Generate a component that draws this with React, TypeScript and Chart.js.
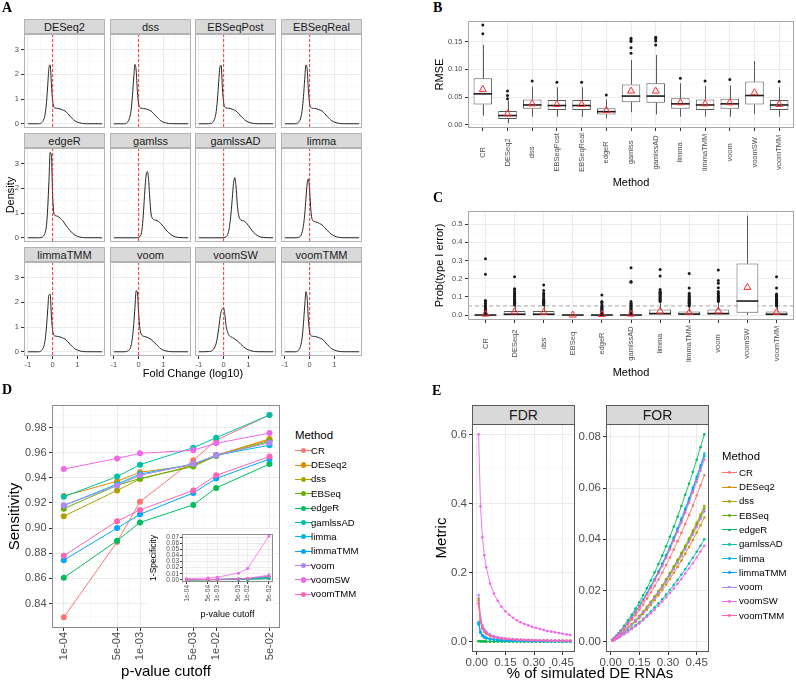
import React, { useEffect, useRef } from "react";
import { Chart, registerables } from "chart.js";
Chart.register(...registerables);

// ---------------- DATA ----------------
const METHODS = ["CR", "DESeq2", "dss", "EBSeq", "edgeR", "gamlssAD", "limma", "limmaTMM", "voom", "voomSW", "voomTMM"];
const COLORS = ["#F8766D", "#DB8E00", "#AEA200", "#64B200", "#00BD5C", "#00C1A7", "#00BADE", "#00A6FF", "#B385FF", "#EF67EB", "#FF63B6"];

// Panel A: density of fold change (log10)
const A_PANELS = ["DESeq2", "dss", "EBSeqPost", "EBSeqReal", "edgeR", "gamlss", "gamlssAD", "limma", "limmaTMM", "voom", "voomSW", "voomTMM"];
const X_A = [-1.0, -0.6, -0.45, -0.35, -0.3, -0.25, -0.2, -0.15, -0.1, -0.05, 0, 0.05, 0.1, 0.2, 0.3, 0.4, 0.5, 0.6, 0.7, 0.8, 0.9, 1.0, 1.2, 1.4, 2.0];
const X_A_SHIFT = [-1.0, -0.4, -0.1, 0, 0.1, 0.15, 0.2, 0.25, 0.3, 0.35, 0.4, 0.45, 0.5, 0.55, 0.6, 0.7, 0.8, 0.9, 1.0, 1.1, 1.2, 1.4, 1.6, 2.0];
const DENS_DESEQ2 = [0, 0, 0.04, 0.2, 0.42, 0.85, 1.55, 2.25, 2.38, 1.6, 0.92, 0.68, 0.64, 0.62, 0.6, 0.56, 0.52, 0.42, 0.31, 0.21, 0.12, 0.07, 0.015, 0.003, 0];
const DENS_DSS = [0, 0, 0.06, 0.3, 0.6, 1.15, 1.85, 2.4, 2.15, 1.3, 0.8, 0.66, 0.63, 0.62, 0.6, 0.56, 0.52, 0.42, 0.31, 0.21, 0.12, 0.07, 0.015, 0.003, 0];
const DENS_EBSEQPOST = [0, 0, 0.05, 0.25, 0.5, 1.0, 1.7, 2.3, 2.36, 1.45, 0.85, 0.67, 0.64, 0.63, 0.61, 0.57, 0.52, 0.42, 0.31, 0.21, 0.12, 0.07, 0.015, 0.003, 0];
const DENS_EBSEQREAL = [0, 0, 0.06, 0.28, 0.58, 1.1, 1.8, 2.38, 2.2, 1.35, 0.82, 0.66, 0.63, 0.62, 0.6, 0.56, 0.52, 0.42, 0.31, 0.21, 0.12, 0.07, 0.015, 0.003, 0];
const DENS_EDGER = [0, 0, 0.02, 0.1, 0.22, 0.5, 1.2, 2.3, 3.45, 3.3, 1.7, 1.0, 0.9, 0.87, 0.8, 0.7, 0.56, 0.42, 0.3, 0.19, 0.11, 0.06, 0.012, 0.002, 0];
const DENS_GAMLSS = [0, 0, 0, 0.02, 0.15, 0.45, 1.1, 1.9, 2.5, 2.68, 2.4, 1.6, 1.0, 0.8, 0.74, 0.71, 0.66, 0.57, 0.46, 0.33, 0.22, 0.07, 0.015, 0];
const DENS_GAMLSSAD = [0, 0, 0, 0.01, 0.04, 0.1, 0.25, 0.55, 1.0, 1.6, 2.2, 2.43, 2.1, 1.4, 0.95, 0.72, 0.69, 0.62, 0.5, 0.36, 0.23, 0.07, 0.015, 0];
const DENS_LIMMA = [0, 0, 0.02, 0.1, 0.25, 0.5, 0.95, 1.6, 2.2, 2.38, 1.9, 1.1, 0.75, 0.65, 0.63, 0.58, 0.52, 0.42, 0.31, 0.21, 0.13, 0.07, 0.015, 0.003, 0];
const DENS_LIMMATMM = [0, 0, 0.05, 0.25, 0.5, 1.0, 1.7, 2.3, 2.32, 1.45, 0.85, 0.67, 0.64, 0.62, 0.6, 0.56, 0.52, 0.42, 0.31, 0.21, 0.12, 0.07, 0.015, 0.003, 0];
const DENS_VOOM = [0, 0, 0.03, 0.12, 0.28, 0.58, 1.1, 1.8, 2.47, 2.38, 1.55, 0.95, 0.72, 0.63, 0.6, 0.56, 0.5, 0.41, 0.31, 0.21, 0.12, 0.07, 0.015, 0.003, 0];
const DENS_VOOMSW = [0, 0.01, 0.06, 0.2, 0.35, 0.6, 0.95, 1.35, 1.62, 1.74, 1.76, 1.5, 1.05, 0.7, 0.6, 0.55, 0.48, 0.4, 0.3, 0.21, 0.13, 0.08, 0.02, 0.004, 0];
const DENS_VOOMTMM = [0, 0, 0.06, 0.3, 0.6, 1.15, 1.85, 2.43, 2.15, 1.3, 0.8, 0.66, 0.63, 0.62, 0.6, 0.56, 0.52, 0.42, 0.31, 0.21, 0.12, 0.07, 0.015, 0.003, 0];
const A_CURVES: [number[], number[]][] = [
  [X_A, DENS_DESEQ2], [X_A, DENS_DSS], [X_A, DENS_EBSEQPOST], [X_A, DENS_EBSEQREAL],
  [X_A, DENS_EDGER], [X_A_SHIFT, DENS_GAMLSS], [X_A_SHIFT, DENS_GAMLSSAD], [X_A, DENS_LIMMA],
  [X_A, DENS_LIMMATMM], [X_A, DENS_VOOM], [X_A, DENS_VOOMSW], [X_A, DENS_VOOMTMM],
];

// Panel B: RMSE boxplots
const B_METHODS = ["CR", "DESeq2", "dss", "EBSeqPost", "EBSeqReal", "edgeR", "gamlss", "gamlssAD", "limma", "limmaTMM", "voom", "voomSW", "voomTMM"];
const B_LOW = [0.017, 0.003, 0.015, 0.015, 0.015, 0.012, 0.023, 0.019, 0.015, 0.015, 0.015, 0.020, 0.015];
const B_Q1 = [0.037, 0.011, 0.029, 0.027, 0.027, 0.019, 0.041, 0.040, 0.029, 0.027, 0.029, 0.037, 0.027];
const B_MED = [0.056, 0.017, 0.036, 0.035, 0.035, 0.024, 0.052, 0.052, 0.038, 0.036, 0.038, 0.053, 0.036];
const B_Q3 = [0.084, 0.025, 0.046, 0.045, 0.045, 0.030, 0.073, 0.075, 0.048, 0.046, 0.047, 0.078, 0.045];
const B_HIGH = [0.144, 0.044, 0.069, 0.068, 0.068, 0.046, 0.117, 0.126, 0.075, 0.070, 0.071, 0.115, 0.068];
const B_MEAN = [0.064, 0.020, 0.038, 0.037, 0.037, 0.026, 0.061, 0.061, 0.040, 0.038, 0.040, 0.058, 0.037];
const B_OUT = [[0.164, 0.180], [0.047, 0.053, 0.061], [0.079], [0.077], [0.077], [0.054], [0.129, 0.139, 0.150, 0.153, 0.156], [0.144, 0.151, 0.155, 0.158], [0.084], [0.079], [0.082], [], [0.078]];

// Panel C: Prob(type I error) boxplots
const C_METHODS = METHODS;
const C_LOW = [0, 0, 0, 0, 0, 0, 0, 0, 0, 0, 0];
const C_Q1 = [0, 0, 0, 0, 0, 0, 0, 0, 0, 0.012, 0];
const C_MED = [0, 0.004, 0.004, 0, 0, 0, 0.008, 0.005, 0.008, 0.077, 0.004];
const C_Q3 = [0.001, 0.022, 0.022, 0, 0.001, 0.002, 0.030, 0.020, 0.030, 0.283, 0.020];
const C_HIGH = [0.002, 0.050, 0.050, 0, 0.002, 0.004, 0.070, 0.045, 0.070, 0.547, 0.045];
const C_MEAN = [0.005, 0.018, 0.015, 0.0, 0.003, 0.005, 0.021, 0.013, 0.022, 0.152, 0.015];
const C_OUT = [
  [0.008, 0.012, 0.016, 0.02, 0.025, 0.03, 0.035, 0.04, 0.047, 0.055, 0.065, 0.075, 0.08, 0.224, 0.31],
  [0.055, 0.06, 0.065, 0.07, 0.075, 0.08, 0.085, 0.09, 0.095, 0.1, 0.105, 0.11, 0.115, 0.12, 0.13, 0.14, 0.145, 0.21],
  [0.055, 0.06, 0.065, 0.07, 0.075, 0.08, 0.085, 0.09, 0.1, 0.11, 0.12, 0.135, 0.165],
  [],
  [0.005, 0.01, 0.015, 0.02, 0.025, 0.03, 0.035, 0.04, 0.045, 0.05, 0.06, 0.07, 0.075, 0.11],
  [0.008, 0.012, 0.016, 0.02, 0.025, 0.03, 0.035, 0.04, 0.045, 0.05, 0.055, 0.06, 0.065, 0.075, 0.18, 0.185, 0.26],
  [0.075, 0.08, 0.085, 0.09, 0.095, 0.1, 0.105, 0.11, 0.115, 0.12, 0.125, 0.13, 0.14, 0.215, 0.25],
  [0.05, 0.055, 0.06, 0.065, 0.07, 0.075, 0.08, 0.085, 0.09, 0.095, 0.1, 0.105, 0.11, 0.12, 0.148, 0.228],
  [0.075, 0.08, 0.085, 0.09, 0.095, 0.1, 0.105, 0.11, 0.12, 0.13, 0.15, 0.175, 0.19, 0.248],
  [],
  [0.05, 0.055, 0.06, 0.065, 0.07, 0.075, 0.08, 0.085, 0.09, 0.095, 0.1, 0.105, 0.11, 0.115, 0.148, 0.21],
];

// Panel D: sensitivity vs p-value cutoff
const P_CUT = [1e-4, 5e-4, 1e-3, 5e-3, 1e-2, 5e-2];
const P_LABELS = ["1e-04", "5e-04", "1e-03", "5e-03", "1e-02", "5e-02"];
const P_MINOR = [2.236e-4, 7.071e-4, 2.236e-3, 7.071e-3, 2.236e-2];
const SENS_CR = [0.829, 0.889, 0.921, 0.954, 0.970, 0.990];
const SENS_DESEQ2 = [0.9255, 0.9373, 0.9445, 0.950, 0.958, 0.971];
const SENS_DSS = [0.9095, 0.930, 0.939, 0.950, 0.958, 0.970];
const SENS_EBSEQ = [0.9155, 0.934, 0.9395, 0.949, 0.9575, 0.969];
const SENS_EDGER = [0.8605, 0.890, 0.9045, 0.9185, 0.932, 0.951];
const SENS_GAMLSSAD = [0.925, 0.941, 0.9505, 0.964, 0.972, 0.990];
const SENS_LIMMA = [0.918, 0.935, 0.943, 0.951, 0.958, 0.966];
const SENS_LIMMATMM = [0.8745, 0.900, 0.911, 0.928, 0.9395, 0.955];
const SENS_VOOM = [0.918, 0.934, 0.942, 0.951, 0.958, 0.968];
const SENS_VOOMSW = [0.947, 0.9555, 0.9595, 0.962, 0.9675, 0.9757];
const SENS_VOOMTMM = [0.878, 0.9055, 0.9145, 0.930, 0.942, 0.957];
const SENS = [SENS_CR, SENS_DESEQ2, SENS_DSS, SENS_EBSEQ, SENS_EDGER, SENS_GAMLSSAD, SENS_LIMMA, SENS_LIMMATMM, SENS_VOOM, SENS_VOOMSW, SENS_VOOMTMM];
// Inset: 1-specificity
const SPEC_CR = [0.0001, 0.0002, 0.0003, 0.0006, 0.0009, 0.0025];
const SPEC_DESEQ2 = [0.0002, 0.0004, 0.0006, 0.0012, 0.0018, 0.0045];
const SPEC_DSS = [0.0002, 0.0004, 0.0006, 0.0011, 0.0017, 0.0042];
const SPEC_EBSEQ = [0.0001, 0.0003, 0.0005, 0.0009, 0.0014, 0.0036];
const SPEC_EDGER = [0.0001, 0.0001, 0.0002, 0.0004, 0.0007, 0.0018];
const SPEC_GAMLSSAD = [0.0001, 0.0002, 0.0004, 0.0008, 0.0012, 0.003];
const SPEC_LIMMA = [0.0003, 0.0005, 0.0007, 0.0013, 0.0019, 0.0052];
const SPEC_LIMMATMM = [0.0002, 0.0004, 0.0006, 0.0012, 0.0018, 0.005];
const SPEC_VOOM = [0.0004, 0.0007, 0.001, 0.0018, 0.0026, 0.0078];
const SPEC_VOOMSW = [0.0018, 0.0031, 0.0044, 0.011, 0.0185, 0.0722];
const SPEC_VOOMTMM = [0.0003, 0.0005, 0.0007, 0.0013, 0.002, 0.006];
const SPEC = [SPEC_CR, SPEC_DESEQ2, SPEC_DSS, SPEC_EBSEQ, SPEC_EDGER, SPEC_GAMLSSAD, SPEC_LIMMA, SPEC_LIMMATMM, SPEC_VOOM, SPEC_VOOMSW, SPEC_VOOMTMM];

// Panel E: FDR / FOR vs % simulated DE RNAs
const X_E = [0.01, 0.02, 0.03, 0.04, 0.05, 0.07, 0.09, 0.11, 0.13, 0.15, 0.17, 0.19, 0.21, 0.23, 0.25, 0.27, 0.29, 0.31, 0.33, 0.35, 0.37, 0.39, 0.41, 0.43, 0.45, 0.47, 0.49];
const FDR_CR = [0.11, 0.055, 0.037, 0.028, 0.022, 0.016, 0.012, 0.0098, 0.0083, 0.0072, 0.0063, 0.0056, 0.005, 0.0046, 0.0042, 0.0038, 0.0035, 0.0033, 0.003, 0.0028, 0.0026, 0.0025, 0.0023, 0.0022, 0.0021, 0.002, 0.0019];
const FDR_DESEQ2 = [0.125, 0.062, 0.042, 0.031, 0.025, 0.018, 0.014, 0.011, 0.0095, 0.0082, 0.0072, 0.0064, 0.0057, 0.0052, 0.0047, 0.0043, 0.004, 0.0037, 0.0034, 0.0032, 0.003, 0.0028, 0.0026, 0.0025, 0.0024, 0.0022, 0.0021];
const FDR_DSS = [0.12, 0.06, 0.04, 0.03, 0.024, 0.017, 0.013, 0.0105, 0.009, 0.0078, 0.0068, 0.006, 0.0054, 0.0049, 0.0045, 0.0041, 0.0038, 0.0035, 0.0032, 0.003, 0.0028, 0.0026, 0.0025, 0.0023, 0.0022, 0.0021, 0.002];
const FDR_EBSEQ = [0.002, 0.0012, 0.0009, 0.0007, 0.0006, 0.0005, 0.0004, 0.0004, 0.0003, 0.0003, 0.0003, 0.0003, 0.0002, 0.0002, 0.0002, 0.0002, 0.0002, 0.0002, 0.0002, 0.0002, 0.0001, 0.0001, 0.0001, 0.0001, 0.0001, 0.0001, 0.0001];
const FDR_EDGER = [0.001, 0.0006, 0.0004, 0.0003, 0.0003, 0.0002, 0.0002, 0.0002, 0.0001, 0.0001, 0.0001, 0.0001, 0.0001, 0.0001, 0.0001, 0.0001, 0.0001, 0.0001, 0.0001, 0.0001, 0.0001, 0.0001, 0.0001, 0.0001, 0.0001, 0.0001, 0.0001];
const FDR_GAMLSSAD = [0.05, 0.025, 0.016, 0.012, 0.0095, 0.0068, 0.0052, 0.0042, 0.0036, 0.0031, 0.0027, 0.0024, 0.0021, 0.0019, 0.0017, 0.0016, 0.0015, 0.0014, 0.0013, 0.0012, 0.0011, 0.001, 0.001, 0.0009, 0.0009, 0.0008, 0.0008];
const FDR_LIMMA = [0.056, 0.028, 0.019, 0.014, 0.011, 0.008, 0.0062, 0.005, 0.0042, 0.0036, 0.0032, 0.0028, 0.0025, 0.0023, 0.0021, 0.0019, 0.0018, 0.0016, 0.0015, 0.0014, 0.0013, 0.0012, 0.0012, 0.0011, 0.001, 0.001, 0.0009];
const FDR_LIMMATMM = [0.054, 0.027, 0.018, 0.0135, 0.011, 0.0078, 0.006, 0.0049, 0.0041, 0.0035, 0.0031, 0.0027, 0.0024, 0.0022, 0.002, 0.0018, 0.0017, 0.0016, 0.0015, 0.0014, 0.0013, 0.0012, 0.0011, 0.0011, 0.001, 0.001, 0.0009];
const FDR_VOOM = [0.135, 0.07, 0.048, 0.036, 0.029, 0.021, 0.016, 0.013, 0.011, 0.0095, 0.0083, 0.0074, 0.0066, 0.006, 0.0055, 0.005, 0.0046, 0.0043, 0.004, 0.0037, 0.0035, 0.0033, 0.0031, 0.0029, 0.0028, 0.0026, 0.0025];
const FDR_VOOMSW = [0.6, 0.392, 0.302, 0.25, 0.215, 0.168, 0.139, 0.118, 0.101, 0.088, 0.078, 0.069, 0.062, 0.056, 0.051, 0.047, 0.043, 0.04, 0.037, 0.034, 0.031, 0.029, 0.027, 0.025, 0.023, 0.021, 0.019];
const FDR_VOOMTMM = [0.112, 0.058, 0.039, 0.029, 0.023, 0.017, 0.013, 0.0105, 0.009, 0.0078, 0.0068, 0.006, 0.0054, 0.0049, 0.0045, 0.0041, 0.0038, 0.0035, 0.0033, 0.0031, 0.0029, 0.0027, 0.0026, 0.0024, 0.0023, 0.0022, 0.0021];
const FDR = [FDR_CR, FDR_DESEQ2, FDR_DSS, FDR_EBSEQ, FDR_EDGER, FDR_GAMLSSAD, FDR_LIMMA, FDR_LIMMATMM, FDR_VOOM, FDR_VOOMSW, FDR_VOOMTMM];
const FOR_CR = [0.0006, 0.0013, 0.0020, 0.0027, 0.0034, 0.0049, 0.0066, 0.0085, 0.0103, 0.0124, 0.0145, 0.0168, 0.0192, 0.0217, 0.0243, 0.0270, 0.0299, 0.0329, 0.0360, 0.0392, 0.0425, 0.0460, 0.0495, 0.0532, 0.0571, 0.0610, 0.0650];
const FOR_DESEQ2 = [0.0005, 0.0009, 0.0015, 0.0020, 0.0025, 0.0037, 0.0049, 0.0063, 0.0077, 0.0092, 0.0108, 0.0125, 0.0143, 0.0162, 0.0181, 0.0202, 0.0223, 0.0245, 0.0269, 0.0292, 0.0317, 0.0343, 0.0370, 0.0397, 0.0426, 0.0455, 0.0485];
const FOR_DSS = [0.0005, 0.0010, 0.0016, 0.0022, 0.0028, 0.0040, 0.0054, 0.0069, 0.0084, 0.0101, 0.0118, 0.0137, 0.0156, 0.0177, 0.0198, 0.0220, 0.0244, 0.0268, 0.0294, 0.0320, 0.0347, 0.0375, 0.0404, 0.0434, 0.0465, 0.0497, 0.0530];
const FOR_EBSEQ = [0.0005, 0.0010, 0.0016, 0.0021, 0.0027, 0.0040, 0.0053, 0.0068, 0.0083, 0.0099, 0.0116, 0.0134, 0.0153, 0.0174, 0.0194, 0.0216, 0.0239, 0.0263, 0.0288, 0.0314, 0.0340, 0.0368, 0.0396, 0.0426, 0.0457, 0.0488, 0.0520];
const FOR_EDGER = [0.0008, 0.0016, 0.0024, 0.0033, 0.0042, 0.0062, 0.0083, 0.0105, 0.0129, 0.0154, 0.0181, 0.0209, 0.0239, 0.0271, 0.0303, 0.0337, 0.0373, 0.0410, 0.0449, 0.0488, 0.0530, 0.0574, 0.0617, 0.0663, 0.0711, 0.0760, 0.0810];
const FOR_GAMLSSAD = [0.0004, 0.0008, 0.0012, 0.0016, 0.0021, 0.0030, 0.0041, 0.0052, 0.0064, 0.0076, 0.0089, 0.0103, 0.0118, 0.0134, 0.0150, 0.0166, 0.0184, 0.0202, 0.0222, 0.0241, 0.0262, 0.0283, 0.0305, 0.0328, 0.0351, 0.0375, 0.0400];
const FOR_LIMMA = [0.0007, 0.0014, 0.0022, 0.0030, 0.0038, 0.0056, 0.0075, 0.0096, 0.0117, 0.0140, 0.0164, 0.0190, 0.0217, 0.0245, 0.0275, 0.0306, 0.0338, 0.0372, 0.0407, 0.0443, 0.0481, 0.0520, 0.0560, 0.0602, 0.0645, 0.0689, 0.0735];
const FOR_LIMMATMM = [0.0007, 0.0014, 0.0022, 0.0030, 0.0038, 0.0055, 0.0074, 0.0094, 0.0115, 0.0138, 0.0162, 0.0187, 0.0214, 0.0242, 0.0271, 0.0302, 0.0334, 0.0367, 0.0402, 0.0437, 0.0474, 0.0513, 0.0552, 0.0594, 0.0637, 0.0680, 0.0725];
const FOR_VOOM = [0.0005, 0.0010, 0.0015, 0.0021, 0.0027, 0.0039, 0.0052, 0.0066, 0.0081, 0.0097, 0.0114, 0.0132, 0.0150, 0.0170, 0.0191, 0.0212, 0.0235, 0.0258, 0.0283, 0.0308, 0.0334, 0.0361, 0.0389, 0.0418, 0.0448, 0.0478, 0.0510];
const FOR_VOOMSW = [0.0004, 0.0007, 0.0011, 0.0015, 0.0020, 0.0029, 0.0038, 0.0049, 0.0060, 0.0071, 0.0084, 0.0097, 0.0111, 0.0125, 0.0140, 0.0156, 0.0173, 0.0190, 0.0208, 0.0226, 0.0245, 0.0266, 0.0286, 0.0307, 0.0329, 0.0352, 0.0375];
const FOR_VOOMTMM = [0.0007, 0.0014, 0.0021, 0.0029, 0.0037, 0.0054, 0.0073, 0.0093, 0.0113, 0.0135, 0.0159, 0.0184, 0.0210, 0.0238, 0.0266, 0.0296, 0.0328, 0.0360, 0.0394, 0.0429, 0.0466, 0.0504, 0.0543, 0.0583, 0.0625, 0.0668, 0.0712];
const FOR = [FOR_CR, FOR_DESEQ2, FOR_DSS, FOR_EBSEQ, FOR_EDGER, FOR_GAMLSSAD, FOR_LIMMA, FOR_LIMMATMM, FOR_VOOM, FOR_VOOMSW, FOR_VOOMTMM];

// ---------------- STYLE / HELPERS ----------------
const FONT = '"Liberation Sans", Arial, Helvetica, sans-serif';
const SERIF = '"Liberation Serif", "Times New Roman", serif';
const AXIS_TEXT = "#4D4D4D";
Chart.defaults.font.family = FONT;

function axis(o: any): any {
  const list = [
    ...o.major.map((v: number) => ({ value: v, minor: false })),
    ...(o.minor || []).map((v: number) => ({ value: v, minor: true })),
  ].sort((a: any, b: any) => a.value - b.value);
  const horizontal = o.position === "bottom";
  return {
    type: o.type || "linear",
    position: o.position,
    min: o.min,
    max: o.max,
    offset: false,
    afterBuildTicks: (s: any) => { s.ticks = list.map((t: any) => ({ ...t })); },
    afterFit: (s: any) => {
      if (horizontal) s.height = o.size; else s.width = o.size;
      s.paddingLeft = 0; s.paddingRight = 0; s.paddingTop = 0; s.paddingBottom = 0;
    },
    grid: {
      offset: false,
      color: (c: any) => (c.tick && c.tick.minor ? (o.gridMinor || "#F5F5F5") : (o.gridMajor || "#EBEBEB")),
      lineWidth: (c: any) => (c.tick && c.tick.minor ? 0.6 : 1),
      drawTicks: o.ticksOn !== false,
      tickLength: o.tickLen ?? 3,
      tickColor: (c: any) => (c.tick && c.tick.minor ? "rgba(0,0,0,0)" : "#333333"),
      tickWidth: 1,
    },
    border: { display: false },
    ticks: {
      display: o.labels !== false,
      autoSkip: false,
      padding: o.pad ?? 2,
      color: AXIS_TEXT,
      font: { family: FONT, size: o.font ?? 9 },
      maxRotation: o.rot ?? 0,
      minRotation: o.rot ?? 0,
      callback: (v: any, i: number, arr: any[]) => (arr[i] && arr[i].minor ? "" : o.fmt ? o.fmt(Number(v)) : String(v)),
    },
    title: o.title
      ? { display: true, text: o.title, color: "#000000", font: { family: FONT, size: o.titleSize ?? 11 }, padding: o.titlePad ?? 0 }
      : { display: false },
  };
}

const framePlugin = {
  id: "frame",
  afterDraw(chart: any, _a: any, opts: any) {
    const a = chart.chartArea;
    const ctx = chart.ctx;
    ctx.save();
    ctx.strokeStyle = (opts && opts.color) || "#999999";
    ctx.lineWidth = 1;
    ctx.strokeRect(Math.round(a.left) + 0.5, Math.round(a.top) + 0.5, Math.round(a.right - a.left) - 1, Math.round(a.bottom - a.top) - 1);
    ctx.restore();
  },
};

function refLine(o: any) {
  const draw = (chart: any) => {
    const { ctx, chartArea: a, scales } = chart;
    ctx.save();
    ctx.beginPath();
    ctx.rect(a.left, a.top, a.right - a.left, a.bottom - a.top);
    ctx.clip();
    ctx.strokeStyle = o.color;
    ctx.lineWidth = o.width;
    ctx.setLineDash(o.dash);
    ctx.beginPath();
    if (o.axis === "x") {
      const p = scales.x.getPixelForValue(o.value);
      ctx.moveTo(p, a.top); ctx.lineTo(p, a.bottom);
    } else {
      const p = scales.y.getPixelForValue(o.value);
      ctx.moveTo(a.left, p); ctx.lineTo(a.right, p);
    }
    ctx.stroke();
    ctx.restore();
  };
  return o.front ? { id: "refLineF", afterDatasetsDraw: draw } : { id: "refLineB", beforeDatasetsDraw: draw };
}

function boxPlugin(low: number[], med: number[], high: number[], q1: number[], q3: number[]) {
  return {
    id: "boxWhisk",
    afterDatasetDraw(chart: any, args: any) {
      if (args.index !== 0) return;
      const ctx = chart.ctx;
      const ys = chart.scales.y;
      const meta = chart.getDatasetMeta(0);
      ctx.save();
      meta.data.forEach((bar: any, i: number) => {
        const x = Math.round(bar.x) + 0.5;
        const w = bar.width;
        ctx.strokeStyle = "#595959";
        ctx.lineWidth = 1;
        ctx.beginPath();
        ctx.moveTo(x, ys.getPixelForValue(q3[i]));
        ctx.lineTo(x, ys.getPixelForValue(high[i]));
        ctx.moveTo(x, ys.getPixelForValue(q1[i]));
        ctx.lineTo(x, ys.getPixelForValue(low[i]));
        ctx.stroke();
        ctx.strokeStyle = "#1A1A1A";
        ctx.lineWidth = 1.6;
        ctx.beginPath();
        const my = ys.getPixelForValue(med[i]);
        ctx.moveTo(bar.x - w / 2, my);
        ctx.lineTo(bar.x + w / 2, my);
        ctx.stroke();
      });
      ctx.restore();
    },
  };
}

function catLabels(labels: string[], size: number) {
  return {
    id: "catLabels",
    afterDraw(chart: any) {
      const { ctx, chartArea, scales } = chart;
      ctx.save();
      ctx.font = `${size}px ${FONT}`;
      ctx.fillStyle = AXIS_TEXT;
      const maxW = Math.max(...labels.map((l) => ctx.measureText(l).width));
      const cy = chartArea.bottom + 5 + maxW / 2;
      labels.forEach((l, i) => {
        const px = scales.x.getPixelForValue(i);
        ctx.save();
        ctx.translate(px, cy);
        ctx.rotate(-Math.PI / 2);
        ctx.textAlign = "center";
        ctx.textBaseline = "middle";
        ctx.fillText(l, 0, 0);
        ctx.restore();
      });
      ctx.restore();
    },
  };
}

const baseOpts = (pad: any, frameColor: string) => ({
  responsive: false,
  animation: false,
  events: [],
  devicePixelRatio: 1,
  layout: { padding: pad, autoPadding: false },
  plugins: { legend: { display: false }, tooltip: { enabled: false }, frame: { color: frameColor } },
});

// ---------------- CHART BUILDERS ----------------
const A_COL_X = [24, 110, 195, 281];
const A_ROW_Y = [34, 148, 262];
const A_W = 81;
const A_H = 94;

function buildDensity(i: number) {
  return (cv: HTMLCanvasElement) => {
    const c = i % 4;
    const r = Math.floor(i / 4);
    const [xs, ys] = A_CURVES[i];
    return new Chart(cv, {
      type: "line",
      data: {
        datasets: [{
          data: xs.map((x, k) => ({ x, y: ys[k] })),
          borderColor: "#262626", borderWidth: 1, pointRadius: 0, cubicInterpolationMode: "monotone", fill: false,
        }],
      },
      options: {
        ...baseOpts(0, "#B3B3B3"),
        scales: {
          x: axis({ position: "bottom", min: -1.16, max: 2.12, major: [-1, 0, 1], minor: [-0.5, 0.5, 1.5], size: r === 2 ? 14 : 0, labels: r === 2, ticksOn: r === 2, font: 7.5, pad: 1 }),
          y: axis({ position: "left", min: -0.17, max: 3.63, major: [0, 1, 2, 3], minor: [0.5, 1.5, 2.5, 3.5], size: c === 0 ? 24 : 0, labels: c === 0, ticksOn: c === 0, font: 7.5, pad: 2 }),
        },
      } as any,
      plugins: [framePlugin, refLine({ axis: "x", value: 0, color: "rgba(255,30,30,0.9)", dash: [3, 2], width: 1, front: true })],
    } as any);
  };
}

function buildBox(cfg: any) {
  return (cv: HTMLCanvasElement) => {
    const n = cfg.names.length;
    const plugins: any[] = [framePlugin, boxPlugin(cfg.low, cfg.med, cfg.high, cfg.q1, cfg.q3), catLabels(cfg.names, 7.5)];
    if (cfg.hline !== undefined) plugins.push(refLine({ axis: "y", value: cfg.hline, color: "#A6A6A6", dash: [4, 3], width: 1, front: false }));
    return new Chart(cv, {
      type: "bar",
      data: {
        datasets: [
          {
            type: "bar",
            data: cfg.names.map((_: string, i: number) => ({ x: i, y: [cfg.q1[i], cfg.q3[i]] })),
            backgroundColor: "#FFFFFF", borderColor: "#595959", borderWidth: 1, borderSkipped: false,
            barPercentage: 0.75, categoryPercentage: 1, order: 3,
          },
          {
            type: "scatter",
            data: cfg.out.flatMap((arr: number[], i: number) => arr.map((v) => ({ x: i, y: v }))),
            pointRadius: 1.5, pointBackgroundColor: "#1A1A1A", pointBorderWidth: 0, order: 2,
          },
          {
            type: "scatter",
            data: cfg.mean.map((v: number, i: number) => ({ x: i, y: v })),
            pointStyle: "triangle", pointRadius: 4, pointBorderColor: "#FF2A2A", pointBackgroundColor: "rgba(0,0,0,0)", pointBorderWidth: 1, order: 1,
          },
        ],
      },
      options: {
        ...baseOpts(cfg.pad, "#A6A6A6"),
        scales: {
          x: axis({ position: "bottom", min: -0.6, max: n - 1 + 0.6, major: cfg.names.map((_: string, i: number) => i), size: cfg.xSize, labels: false, title: "Method", titleSize: 11, titlePad: { top: 0, bottom: cfg.titlePadB } }),
          y: axis({ position: "left", min: cfg.yMin, max: cfg.yMax, major: cfg.yMajor, minor: cfg.yMinor, size: 38, font: 7.5, pad: 2.5, fmt: cfg.fmt, title: cfg.yTitle, titleSize: 11, titlePad: { top: 3.4, bottom: 0 } }),
        },
      } as any,
      plugins,
    } as any);
  };
}

const pLabel = (v: number) => {
  const k = P_CUT.findIndex((p) => Math.abs(p - v) / p < 1e-6);
  return k >= 0 ? P_LABELS[k] : "";
};

function buildSens(cv: HTMLCanvasElement) {
  return new Chart(cv, {
    type: "line",
    data: {
      datasets: METHODS.map((m, i) => ({
        label: m,
        data: P_CUT.map((p, k) => ({ x: p, y: SENS[i][k] })),
        borderColor: COLORS[i], backgroundColor: COLORS[i], pointBackgroundColor: COLORS[i],
        borderWidth: 1, pointRadius: 3, pointBorderWidth: 0, order: METHODS.length - i,
      })),
    },
    options: {
      ...baseOpts({ top: 5, right: 5, left: 0, bottom: 0 }, "#8C8C8C"),
      scales: {
        x: axis({ type: "logarithmic", position: "bottom", min: 7.31e-5, max: 0.0687, major: P_CUT, minor: P_MINOR, size: 53, font: 11, rot: 90, pad: 1, fmt: pLabel, title: "p-value cutoff", titleSize: 15, titlePad: { top: 0, bottom: 0 } }),
        y: axis({ position: "left", min: 0.8205, max: 0.998, major: [0.84, 0.86, 0.88, 0.9, 0.92, 0.94, 0.96, 0.98], minor: [0.83, 0.85, 0.87, 0.89, 0.91, 0.93, 0.95, 0.97, 0.99], size: 52, font: 11, pad: 2.5, fmt: (v: number) => v.toFixed(2), title: "Sensitivity", titleSize: 15, titlePad: { top: 6, bottom: 0 } }),
      },
    } as any,
    plugins: [framePlugin],
  } as any);
}

function buildInset(cv: HTMLCanvasElement) {
  return new Chart(cv, {
    type: "line",
    data: {
      datasets: METHODS.map((m, i) => ({
        label: m,
        data: P_CUT.map((p, k) => ({ x: p, y: SPEC[i][k] })),
        borderColor: COLORS[i], backgroundColor: COLORS[i], pointBackgroundColor: COLORS[i],
        borderWidth: 0.8, pointRadius: 1.5, pointBorderWidth: 0, order: METHODS.length - i,
      })),
    },
    options: {
      ...baseOpts({ top: 5, right: 2, left: 0, bottom: 0 }, "#8C8C8C"),
      scales: {
        x: axis({ type: "logarithmic", position: "bottom", min: 7.33e-5, max: 0.0682, major: P_CUT, minor: P_MINOR, size: 40, font: 6.5, rot: 90, pad: 1, tickLen: 2, fmt: pLabel, title: "p-value cutoff", titleSize: 9, titlePad: { top: 0, bottom: 2.3 } }),
        y: axis({ position: "left", min: -0.0036, max: 0.0756, major: [0, 0.01, 0.02, 0.03, 0.04, 0.05, 0.06, 0.07], minor: [0.005, 0.015, 0.025, 0.035, 0.045, 0.055, 0.065, 0.075], size: 35, font: 6.5, pad: 1, tickLen: 2, fmt: (v: number) => v.toFixed(2), title: "1-Specificity", titleSize: 8.5, titlePad: { top: 1.2, bottom: 0 } }),
      },
    } as any,
    plugins: [framePlugin],
  } as any);
}

function buildE(which: "FDR" | "FOR") {
  return (cv: HTMLCanvasElement) => {
    const series = which === "FDR" ? FDR : FOR;
    const yAxis = which === "FDR"
      ? axis({ position: "left", min: -0.03, max: 0.63, major: [0, 0.2, 0.4, 0.6], minor: [0.1, 0.3, 0.5], size: 42, font: 11.5, pad: 2, fmt: (v: number) => v.toFixed(1), title: "Metric", titleSize: 15, titlePad: { top: 2.7, bottom: 0 } })
      : axis({ position: "left", min: -0.00405, max: 0.08505, major: [0, 0.02, 0.04, 0.06, 0.08], minor: [0.01, 0.03, 0.05, 0.07], size: 28, font: 11.5, pad: 2, fmt: (v: number) => v.toFixed(2) });
    return new Chart(cv, {
      type: "line",
      data: {
        datasets: METHODS.map((m, i) => ({
          label: m,
          data: X_E.map((x, k) => ({ x, y: series[i][k] })),
          borderColor: COLORS[i], backgroundColor: COLORS[i], pointBackgroundColor: COLORS[i],
          borderWidth: 0.9, pointRadius: 1.3, pointBorderWidth: 0, order: METHODS.length - i,
        })),
      },
      options: {
        ...baseOpts({ top: 4, right: 3, left: 0, bottom: 0 }, "#595959"),
        scales: {
          x: axis({ position: "bottom", min: -0.0245, max: 0.5145, major: [0, 0.15, 0.3, 0.45], minor: [0.075, 0.225, 0.375], size: 18, font: 11.5, pad: 1, fmt: (v: number) => v.toFixed(2) }),
          y: yAxis,
        },
      } as any,
      plugins: [framePlugin],
    } as any);
  };
}

// ---------------- COMPONENTS ----------------
function ChartCanvas({ x, y, w, h, build, bg }: any) {
  const ref = useRef<HTMLCanvasElement>(null);
  useEffect(() => {
    const chart = build(ref.current);
    return () => chart.destroy();
  }, []);
  return (
    <canvas ref={ref} width={w} height={h}
      style={{ position: "absolute", left: x, top: y, width: w, height: h, background: bg || "transparent" }} />
  );
}

function Txt({ x, y, size, children, color, rotate, anchor, family, weight }: any) {
  const tr = anchor === "center" ? "translate(-50%,-50%)" : "translate(0,-50%)";
  return (
    <div style={{
      position: "absolute", left: x, top: y, transform: tr + (rotate ? ` rotate(${rotate}deg)` : ""),
      fontFamily: family || FONT, fontSize: size, color: color || "#000", whiteSpace: "nowrap", lineHeight: 1.15, fontWeight: weight || "normal",
    }}>{children}</div>
  );
}

function Strip({ x, y, w, h, text, size, border }: any) {
  return (
    <div style={{
      position: "absolute", left: x, top: y, width: w, height: h, boxSizing: "border-box",
      background: "#D9D9D9", border: `1px solid ${border}`, display: "flex", alignItems: "center", justifyContent: "center",
      fontFamily: FONT, fontSize: size, color: "#1A1A1A", whiteSpace: "nowrap", overflow: "hidden",
    }}>{text}</div>
  );
}

function Legend({ x, titleY, y0, step, titleSize, itemSize, keyW, dotR, textX }: any) {
  return (
    <>
      <Txt x={x} y={titleY} size={titleSize}>Method</Txt>
      {METHODS.map((m, i) => {
        const cy = y0 + i * step;
        return (
          <React.Fragment key={m}>
            <div style={{ position: "absolute", left: x, top: cy - 0.5, width: keyW, height: 1, background: COLORS[i] }} />
            <div style={{ position: "absolute", left: x + keyW / 2 - dotR, top: cy - dotR, width: dotR * 2, height: dotR * 2, borderRadius: "50%", background: COLORS[i] }} />
            <Txt x={textX} y={cy} size={itemSize}>{m}</Txt>
          </React.Fragment>
        );
      })}
    </>
  );
}

export default function App() {
  const densityPanels = A_PANELS.map((name, i) => {
    const c = i % 4;
    const r = Math.floor(i / 4);
    const px = A_COL_X[c];
    const py = A_ROW_Y[r];
    const left = px - (c === 0 ? 24 : 0);
    const w = A_W + (c === 0 ? 24 : 0);
    const h = A_H + (r === 2 ? 14 : 0);
    return (
      <React.Fragment key={name}>
        <ChartCanvas x={left} y={py} w={w} h={h} build={buildDensity(i)} />
        <Strip x={px} y={py - 15} w={A_W} h={15} text={name} size={11} border="#B3B3B3" />
      </React.Fragment>
    );
  });

  return (
    <div style={{ position: "absolute", left: 0, top: 0, width: 796, height: 681, background: "#FFFFFF", overflow: "hidden" }}>
      {/* Panel A */}
      {densityPanels}
      <Txt x={10} y={195} size={11} anchor="center" rotate={-90}>Density</Txt>
      <Txt x={193} y={373} size={11} anchor="center">Fold Change (log10)</Txt>

      {/* Panel B */}
      <ChartCanvas x={430} y={18} w={366} h={174} build={buildBox({
        names: B_METHODS, low: B_LOW, q1: B_Q1, med: B_MED, q3: B_Q3, high: B_HIGH, mean: B_MEAN, out: B_OUT,
        yMin: -0.0054, yMax: 0.187, yMajor: [0, 0.05, 0.1, 0.15], yMinor: [0.025, 0.075, 0.125, 0.175],
        fmt: (v: number) => v.toFixed(2), yTitle: "RMSE", xSize: 64, titlePadB: 2.4, pad: { top: 3, right: 2, left: 0, bottom: 0 },
      })} />

      {/* Panel C */}
      <ChartCanvas x={430} y={205} w={366} h={176} build={buildBox({
        names: C_METHODS, low: C_LOW, q1: C_Q1, med: C_MED, q3: C_Q3, high: C_HIGH, mean: C_MEAN, out: C_OUT,
        yMin: -0.0273, yMax: 0.572, yMajor: [0, 0.1, 0.2, 0.3, 0.4, 0.5], yMinor: [0.05, 0.15, 0.25, 0.35, 0.45, 0.55],
        fmt: (v: number) => v.toFixed(1), yTitle: "Prob(type I error)", xSize: 61, titlePadB: 1.4, hline: 0.05,
        pad: { top: 6, right: 2, left: 0, bottom: 0 },
      })} />

      {/* Panel D */}
      <ChartCanvas x={0} y={400} w={285} h={281} build={buildSens} />
      <ChartCanvas x={147} y={529} w={128} h={93} build={buildInset} bg="#FFFFFF" />
      <Legend x={295} titleY={436} y0={450.7} step={14.36} titleSize={11.4} itemSize={9.6} keyW={17} dotR={2.6} textX={311} />

      {/* Panel E */}
      <ChartCanvas x={430} y={420} w={148} h={250} build={buildE("FDR")} />
      <ChartCanvas x={578} y={420} w={134} h={250} build={buildE("FOR")} />
      <Strip x={472} y={405} w={103} h={20} text="FDR" size={14} border="#595959" />
      <Strip x={606} y={405} w={103} h={20} text="FOR" size={14} border="#595959" />
      <Txt x={590} y={673} size={15} anchor="center">% of simulated DE RNAs</Txt>
      <Legend x={722} titleY={457.3} y0={472.7} step={14.3} titleSize={11.4} itemSize={9.6} keyW={15} dotR={1.4} textX={739} />

      {/* Panel letters */}
      <Txt x={2} y={8} size={14} family={SERIF} weight="bold">A</Txt>
      <Txt x={433} y={8} size={14} family={SERIF} weight="bold">B</Txt>
      <Txt x={433} y={198} size={14} family={SERIF} weight="bold">C</Txt>
      <Txt x={2} y={390} size={14} family={SERIF} weight="bold">D</Txt>
      <Txt x={432} y={391} size={14} family={SERIF} weight="bold">E</Txt>
    </div>
  );
}
